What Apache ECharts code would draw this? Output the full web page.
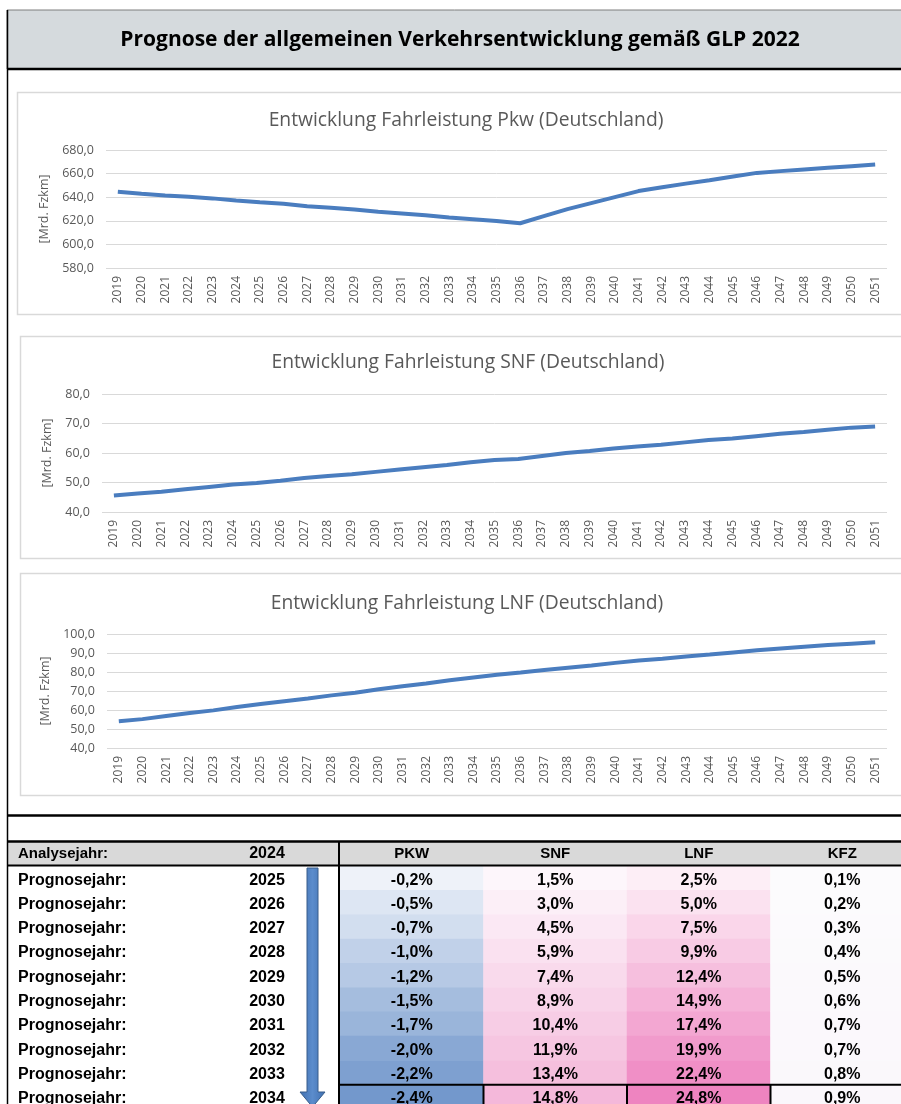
<!DOCTYPE html>
<html>
<head>
<meta charset="utf-8">
<title>Prognose Verkehrsentwicklung</title>
<script src="https://cdn.jsdelivr.net/npm/echarts@6/dist/echarts.min.js"></script>
<style>
  html, body { margin: 0; padding: 0; background: #fff; }
  #main { width: 901px; height: 1104px; }
</style>
</head>
<body>
<div id="main"></div>
<script>
// years of the three line charts
const years = ['2019','2020','2021','2022','2023','2024','2025','2026','2027','2028','2029',
  '2030','2031','2032','2033','2034','2035','2036','2037','2038','2039','2040','2041',
  '2042','2043','2044','2045','2046','2047','2048','2049','2050','2051'];

// Fahrleistung [Mrd. Fzkm]
const pkw = [644.7, 643.0, 641.5, 640.4, 639.0, 637.3, 635.8, 634.4, 632.4, 631.0, 629.6,
  627.6, 626.2, 624.7, 622.7, 621.3, 619.9, 617.9, 623.9, 629.9, 635.0, 640.1, 645.2,
  648.4, 651.5, 654.4, 657.5, 660.6, 662.1, 663.5, 664.9, 666.3, 667.7];
const snf = [45.6, 46.3, 46.9, 47.7, 48.5, 49.3, 49.8, 50.6, 51.5, 52.2, 52.8,
  53.6, 54.4, 55.2, 55.9, 56.9, 57.6, 58.0, 59.0, 60.0, 60.7, 61.5, 62.2,
  62.8, 63.6, 64.4, 64.9, 65.7, 66.5, 67.1, 67.9, 68.6, 69.0];
const lnf = [54.1, 55.2, 56.8, 58.4, 59.8, 61.6, 63.1, 64.6, 66.1, 67.7, 69.1,
  70.9, 72.5, 73.9, 75.7, 77.1, 78.5, 79.7, 81.0, 82.2, 83.4, 84.8, 86.1,
  87.0, 88.2, 89.2, 90.3, 91.4, 92.4, 93.3, 94.2, 94.9, 95.6];

// table: change vs. Analysejahr 2024 [%]
const analyseYear = '2024';
const prognoseYears = ['2025','2026','2027','2028','2029','2030','2031','2032','2033','2034'];
const tableCols = ['PKW', 'SNF', 'LNF', 'KFZ'];
const pkwPct = [-0.2, -0.5, -0.7, -1.0, -1.2, -1.5, -1.7, -2.0, -2.2, -2.4];
const snfPct = [1.5, 3.0, 4.5, 5.9, 7.4, 8.9, 10.4, 11.9, 13.4, 14.8];
const lnfPct = [2.5, 5.0, 7.5, 9.9, 12.4, 14.9, 17.4, 19.9, 22.4, 24.8];
const kfzPct = [0.1, 0.2, 0.3, 0.4, 0.5, 0.6, 0.7, 0.7, 0.8, 0.9];

const chart = echarts.init(document.getElementById('main'));

const axisFont = 'Open Sans, sans-serif';
const tblFont = 'Liberation Sans, Arial, sans-serif';
const gray = '#595959';
const lineBlue = '#4a7dbf';

const fmtNum = v => v.toFixed(1).replace('.', ',');
const fmtPct = v => v.toFixed(1).replace('.', ',') + '%';

// table geometry
const rowTop = 866, rowH = 24.3, colLeft = 340, colW = 143.5;

function lineChartAxes(idx, min, max, step, gap) {
  return {
    x: {
      type: 'category', gridIndex: idx, data: years, boundaryGap: true,
      axisLine: { show: false }, axisTick: { show: false },
      axisLabel: { rotate: 90, fontSize: 12, color: gray, fontFamily: axisFont, margin: 8, interval: 0 }
    },
    y: {
      type: 'value', gridIndex: idx, min: min, max: max, interval: step,
      name: '[Mrd. Fzkm]', nameLocation: 'middle', nameRotate: 90, nameGap: gap,
      nameTextStyle: { fontSize: 12.5, color: gray, fontFamily: axisFont },
      axisLine: { show: false }, axisTick: { show: false },
      axisLabel: { fontSize: 12.5, color: gray, fontFamily: axisFont, margin: 12, formatter: fmtNum },
      splitLine: { lineStyle: { color: '#d9d9d9', width: 1 } }
    }
  };
}

const a1 = lineChartAxes(0, 580, 680, 20, 52);
const a2 = lineChartAxes(1, 40, 80, 10, 44);
const a3 = lineChartAxes(2, 40, 100, 10, 52);

// heatmap data [col, row, value]
const pctCols = [pkwPct, snfPct, lnfPct, kfzPct];
const heatSeries = pctCols.map((arr, c) => ({
  type: 'heatmap', xAxisIndex: 3, yAxisIndex: 3,
  data: arr.map((v, r) => [c, r, v]),
  label: {
    show: true, color: '#000', fontWeight: 'bold', fontSize: 16, fontFamily: tblFont,
    offset: [0, 2], formatter: p => fmtPct(p.value[2])
  },
  itemStyle: { borderWidth: 0 },
  emphasis: { disabled: true }
}));

const heatColors = [
  { min: -2.4, max: -0.2, color: ['#7398cc', '#eef2f9'] },
  { min: 1.5, max: 14.8, color: ['#fdf6fb', '#f4b8da'] },
  { min: 2.5, max: 24.8, color: ['#fdeef6', '#ee84c0'] },
  { min: 0.1, max: 0.9, color: ['#fcfbfd', '#faf7fb'] }
];

// table text built from the arrays
const tableText = [];
prognoseYears.forEach((y, i) => {
  const cy = rowTop + rowH * (i + 0.5) + 2;
  tableText.push({ type: 'text', z: 20, style: { x: 18, y: cy, text: 'Prognosejahr:', font: 'bold 16px ' + tblFont, fill: '#000', textVerticalAlign: 'middle' } });
  tableText.push({ type: 'text', z: 20, style: { x: 267, y: cy, text: y, font: 'bold 16px ' + tblFont, fill: '#000', textAlign: 'center', textVerticalAlign: 'middle' } });
});
tableCols.forEach((c, i) => {
  tableText.push({ type: 'text', z: 20, style: { x: colLeft + colW * (i + 0.5), y: 854, text: c, font: 'bold 15px ' + tblFont, fill: '#000', textAlign: 'center', textVerticalAlign: 'middle' } });
});

const hl = (x1, x2, y, w) => ({ type: 'line', z: 30, shape: { x1: x1, y1: y, x2: x2, y2: y }, style: { stroke: '#000', lineWidth: w } });
const vl = (x, y1, y2, w) => ({ type: 'line', z: 30, shape: { x1: x, y1: y1, x2: x, y2: y2 }, style: { stroke: '#000', lineWidth: w } });
const lastTop = rowTop + rowH * 9;

const option = {
  animation: false,
  backgroundColor: '#fff',
  title: [
    { text: 'Entwicklung Fahrleistung Pkw (Deutschland)', left: 461, top: 106, textAlign: 'center',
      textStyle: { fontFamily: axisFont, fontWeight: 'normal', fontSize: 19.3, color: gray } },
    { text: 'Entwicklung Fahrleistung SNF (Deutschland)', left: 463, top: 348, textAlign: 'center',
      textStyle: { fontFamily: axisFont, fontWeight: 'normal', fontSize: 19.3, color: gray } },
    { text: 'Entwicklung Fahrleistung LNF (Deutschland)', left: 462, top: 589, textAlign: 'center',
      textStyle: { fontFamily: axisFont, fontWeight: 'normal', fontSize: 19.3, color: gray } }
  ],
  grid: [
    { left: 106, right: 14, top: 150, height: 118 },
    { left: 102, right: 14, top: 394, height: 118 },
    { left: 107, right: 14, top: 634, height: 114 },
    { left: colLeft, top: rowTop, width: colW * 4, height: rowH * 10, outerBoundsMode: 'none' }
  ],
  xAxis: [a1.x, a2.x, a3.x,
    { type: 'category', gridIndex: 3, data: tableCols, show: false }],
  yAxis: [a1.y, a2.y, a3.y,
    { type: 'category', gridIndex: 3, data: prognoseYears, inverse: true, show: false }],
  visualMap: heatColors.map((h, i) => ({
    show: false, type: 'continuous', seriesIndex: 3 + i, dimension: 2,
    min: h.min, max: h.max, inRange: { color: h.color }
  })),
  series: [
    { type: 'line', xAxisIndex: 0, yAxisIndex: 0, data: pkw, showSymbol: false, lineStyle: { color: lineBlue, width: 4 } },
    { type: 'line', xAxisIndex: 1, yAxisIndex: 1, data: snf, showSymbol: false, lineStyle: { color: lineBlue, width: 4 } },
    { type: 'line', xAxisIndex: 2, yAxisIndex: 2, data: lnf, showSymbol: false, lineStyle: { color: lineBlue, width: 4 } }
  ].concat(heatSeries),
  graphic: [
    // title band
    { type: 'rect', z: -20, shape: { x: 7, y: 10, width: 900, height: 59 }, style: { fill: '#d5dadd', stroke: '#7f7f7f', lineWidth: 1 } },
    { type: 'text', z: 20, style: { x: 460, y: 40, text: 'Prognose der allgemeinen Verkehrsentwicklung gemäß GLP 2022', font: 'bold 21px ' + axisFont, fill: '#000', textAlign: 'center', textVerticalAlign: 'middle' } },
    hl(7, 901, 69, 2.5),
    vl(7.5, 10, 1104, 1.5),
    // chart panels
    { type: 'rect', z: -20, shape: { x: 17.5, y: 92.5, width: 900, height: 222 }, style: { fill: '#fff', stroke: '#d9d9d9', lineWidth: 1.5 } },
    { type: 'rect', z: -20, shape: { x: 20.5, y: 336.5, width: 900, height: 222 }, style: { fill: '#fff', stroke: '#d9d9d9', lineWidth: 1.5 } },
    { type: 'rect', z: -20, shape: { x: 20.5, y: 573.5, width: 900, height: 222 }, style: { fill: '#fff', stroke: '#d9d9d9', lineWidth: 1.5 } },
    // table frame
    hl(7, 901, 815.5, 2.5),
    { type: 'rect', z: -20, shape: { x: 8, y: 842, width: 893, height: 23 }, style: { fill: '#d9d9d9' } },
    { type: 'text', z: 20, style: { x: 18, y: 854, text: 'Analysejahr:', font: 'bold 15px ' + tblFont, fill: '#000', textVerticalAlign: 'middle' } },
    { type: 'text', z: 20, style: { x: 267, y: 854, text: analyseYear, font: 'bold 16px ' + tblFont, fill: '#000', textAlign: 'center', textVerticalAlign: 'middle' } },
    hl(7, 901, 841.5, 2.5),
    hl(7, 901, 865.5, 2),
    vl(339, 841, 1104, 2),
    hl(339, 901, lastTop, 2),
    vl(colLeft + colW, lastTop, 1104, 2),
    vl(colLeft + colW * 2, lastTop, 1104, 2),
    vl(colLeft + colW * 3, lastTop, 1104, 2),
    // down arrow
    { type: 'polygon', z: 25,
      shape: { points: [[307, 868], [318, 868], [318, 1092], [325, 1092], [312.5, 1107], [300, 1092], [307, 1092]] },
      style: { fill: new echarts.graphic.LinearGradient(0, 0, 1, 0, [
        { offset: 0, color: '#3f6fb0' }, { offset: 0.5, color: '#5b8ccc' }, { offset: 1, color: '#3f6fb0' }]),
        stroke: '#385d8a', lineWidth: 1 } }
  ].concat(tableText)
};

chart.setOption(option);
</script>
</body>
</html>
